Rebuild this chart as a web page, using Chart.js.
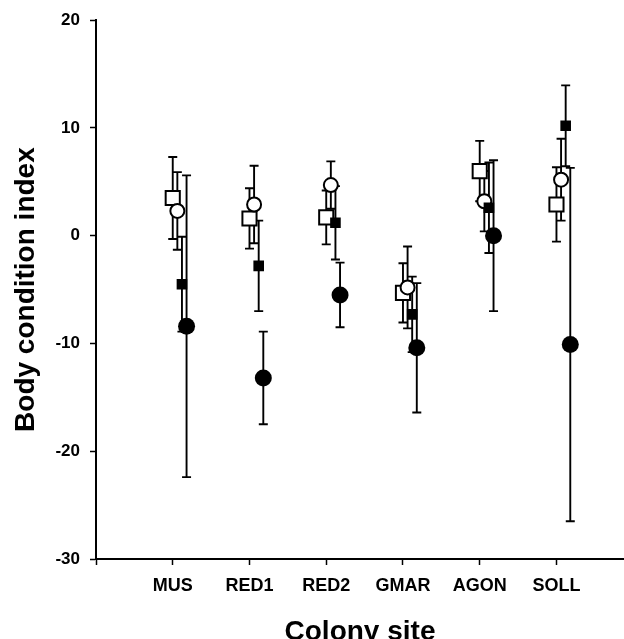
<!DOCTYPE html>
<html>
<head>
<meta charset="utf-8">
<script src="https://cdn.jsdelivr.net/npm/chart.js@4.4.0/dist/chart.umd.min.js"></script>
<style>
  html, body { margin: 0; padding: 0; background: #fff; }
  canvas { display: block; }
</style>
</head>
<body>
<canvas id="chart" width="624" height="639"></canvas>
<script>
// ---- data ----
const sites = ['MUS', 'RED1', 'RED2', 'GMAR', 'AGON', 'SOLL'];
const yTicks = [-30, -20, -10, 0, 10, 20];

const openSquareMean   = [3.5, 1.6, 1.7, -5.3, 6.0, 2.9];
const openSquareErr    = [3.8, 2.8, 2.5, 2.75, 2.8, 3.45];
const openCircleMean   = [2.3, 2.9, 4.7, -4.8, 3.2, 5.2];
const openCircleErr    = [3.6, 3.6, 2.2, 3.8, 2.8, 3.8];
const filledSquareMean = [-4.5, -2.8, 1.2, -7.3, 2.6, 10.2];
const filledSquareErr  = [4.4, 4.2, 3.4, 3.5, 4.2, 3.75];
const filledCircleMean = [-8.4, -13.2, -5.5, -10.4, 0.0, -10.1];
const filledCircleErr  = [14.0, 4.3, 3.0, 6.0, 7.0, 16.4];

// small horizontal dodge so the four groups don't sit on top of each other
const dodge = [0, 0.06, 0.12, 0.18];
const FONT = "'Liberation Sans', Arial, Helvetica, sans-serif";

function points(means, k) {
  return means.map((v, i) => ({ x: i + 1 + dodge[k], y: v }));
}

const errorBars = {
  id: 'errorBars',
  beforeDatasetsDraw(chart) {
    const { ctx, scales: { x, y } } = chart;
    ctx.save();
    ctx.strokeStyle = '#000';
    ctx.lineWidth = 1.9;
    chart.data.datasets.forEach(ds => {
      ds.data.forEach((pt, i) => {
        const e = ds.errors[i];
        const px = x.getPixelForValue(pt.x);
        const top = y.getPixelForValue(pt.y + e);
        const bot = y.getPixelForValue(pt.y - e);
        ctx.beginPath();
        ctx.moveTo(px, top); ctx.lineTo(px, bot);
        ctx.moveTo(px - 4.5, top); ctx.lineTo(px + 4.5, top);
        ctx.moveTo(px - 4.5, bot); ctx.lineTo(px + 4.5, bot);
        ctx.stroke();
      });
    });
    ctx.restore();
  }
};

const ctx = document.getElementById('chart').getContext('2d');
new Chart(ctx, {
  type: 'scatter',
  data: {
    datasets: [
      { label: 'open square', data: points(openSquareMean, 0), errors: openSquareErr, order: 4,
        pointStyle: 'rect', pointRadius: 10, backgroundColor: '#fff', borderColor: '#000', borderWidth: 2 },
      { label: 'open circle', data: points(openCircleMean, 1), errors: openCircleErr, order: 3,
        pointStyle: 'circle', pointRadius: 7, backgroundColor: '#fff', borderColor: '#000', borderWidth: 2 },
      { label: 'filled square', data: points(filledSquareMean, 2), errors: filledSquareErr, order: 2,
        pointStyle: 'rect', pointRadius: 7.5, backgroundColor: '#000', borderColor: '#000', borderWidth: 0 },
      { label: 'filled circle', data: points(filledCircleMean, 3), errors: filledCircleErr, order: 1,
        pointStyle: 'circle', pointRadius: 8.5, backgroundColor: '#000', borderColor: '#000', borderWidth: 0 }
    ]
  },
  options: {
    responsive: false,
    animation: false,
    events: [],
    layout: { autoPadding: false, padding: { top: 20, right: 0, left: 0, bottom: 0 } },
    plugins: { legend: { display: false }, tooltip: { enabled: false } },
    scales: {
      x: {
        type: 'linear',
        min: 0,
        max: 6.88,
        afterFit: s => { s.height = 80; },
        border: { display: true, color: '#000', width: 2 },
        grid: { drawOnChartArea: false, drawTicks: true, tickLength: 6, tickColor: '#000', tickWidth: 1.5 },
        ticks: {
          stepSize: 1,
          includeBounds: false,
          maxRotation: 0,
          autoSkip: false,
          padding: 10,
          color: '#000',
          font: { family: FONT, size: 18, weight: 'bold' },
          callback: v => (Number.isInteger(v) && v >= 1 && v <= sites.length) ? sites[v - 1] : ''
        },
        title: {
          display: true,
          text: 'Colony site',
          color: '#000',
          font: { family: FONT, size: 28, weight: 'bold', lineHeight: 1 },
          padding: { top: 0, bottom: -7 }
        }
      },
      y: {
        min: yTicks[0],
        max: yTicks[yTicks.length - 1],
        afterFit: s => { s.width = 96; },
        afterBuildTicks: s => { s.ticks = yTicks.map(v => ({ value: v })); },
        border: { display: true, color: '#000', width: 2 },
        grid: { drawOnChartArea: false, drawTicks: true, tickLength: 6, tickColor: '#000', tickWidth: 1.5 },
        ticks: {
          padding: 10,
          color: '#000',
          font: { family: FONT, size: 17, weight: 'bold' }
        },
        title: {
          display: true,
          text: 'Body condition index',
          color: '#000',
          font: { family: FONT, size: 28, weight: 'bold', lineHeight: 1.2 },
          padding: { top: 9, bottom: 0 }
        }
      }
    }
  },
  plugins: [errorBars]
});
</script>
</body>
</html>
